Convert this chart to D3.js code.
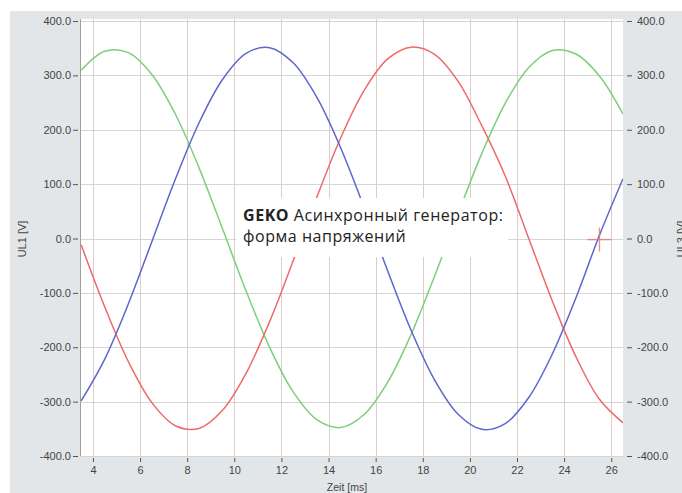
<!DOCTYPE html>
<html>
<head>
<meta charset="utf-8">
<script src="https://cdn.jsdelivr.net/npm/d3@7"></script>
<style>
body{margin:0;background:#fff}
svg{display:block}
</style>
</head>
<body>
<svg width="682" height="493"></svg>
<script>
// time axis samples [ms]
const time = [3.5,4.5,5.5,6.5,7.5,8.5,9.5,10.5,11.5,12.5,13.5,14.5,15.5,16.5,17.5,18.5,19.5,20.5,21.5,22.5,23.5,24.5,25.5,26.5];
// phase voltages [V]
const phaseRed = [-11.7,-125.8,-226.2,-301.9,-344.4,-349.3,-315.9,-247.9,-152.7,-40.9,75.5,183.5,271.5,329.8,351.9,338.8,289.1,207.9,114.8,0.0,-114.9,-217.2,-295.7,-339.0];
const phaseBlue = [-298.8,-221.8,-120.4,-5.9,109.3,212.5,292.4,340.4,351.0,323.2,260.0,168.4,58.3,-58.3,-168.4,-260.0,-323.2,-351.0,-340.4,-292.4,-212.5,-109.3,5.9,110.0];
const phaseGreen = [309.4,344.4,341.8,301.7,228.5,130.4,17.9,-96.5,-200.3,-282.2,-333.2,-347.7,-324.2,-265.1,-177.0,-69.5,45.6,155.7,248.7,314.6,345.9,339.4,299.0,229.0];

const xTicks = [4,6,8,10,12,14,16,18,20,22,24,26];
const yTicks = [-400,-300,-200,-100,0,100,200,300,400];
const cursorPoint = [25.5, -2];

const svg = d3.select("svg");
const plotL = 80, plotR = 623, plotT = 21, plotB = 456;

const x = d3.scaleLinear().domain([3.45, 26.5]).range([plotL, plotR]);
const y = d3.scaleLinear().domain([-400, 400]).range([plotB, plotT]);

// backgrounds
svg.append("rect").attr("x",10).attr("y",11).attr("width",672).attr("height",482).attr("fill","#e3e6e8");
svg.append("rect").attr("x",plotL).attr("y",19).attr("width",plotR-plotL).attr("height",plotB-19).attr("fill","#fff");

// grid
svg.append("g").selectAll("line").data(yTicks).enter().append("line")
  .attr("x1",plotL).attr("x2",plotR)
  .attr("y1",d=>Math.round(y(d))+0.5).attr("y2",d=>Math.round(y(d))+0.5)
  .attr("stroke","#d6d6d6").attr("stroke-width",1);
svg.append("g").selectAll("line").data(xTicks).enter().append("line")
  .attr("x1",d=>Math.round(x(d))+0.5).attr("x2",d=>Math.round(x(d))+0.5)
  .attr("y1",19).attr("y2",plotB)
  .attr("stroke","#dccdcd").attr("stroke-width",1);

// left axis line
svg.append("line").attr("x1",plotL+0.5).attr("x2",plotL+0.5).attr("y1",19).attr("y2",plotB)
  .attr("stroke","#a0a0a0");

const fmt = v => v.toFixed(1);

const yLeft = svg.append("g").attr("transform","translate(78,0)")
  .call(d3.axisLeft(y).tickValues(yTicks).tickFormat(fmt).tickSize(5).tickPadding(2));
const yRight = svg.append("g").attr("transform","translate(627,0)")
  .call(d3.axisRight(y).tickValues(yTicks).tickFormat(fmt).tickSize(5).tickPadding(5));
const xAxis = svg.append("g").attr("transform","translate(0,458)")
  .call(d3.axisBottom(x).tickValues(xTicks).tickFormat(d3.format("d")).tickSize(4).tickPadding(4));

[yLeft, yRight, xAxis].forEach(g => {
  g.select(".domain").remove();
  g.selectAll(".tick line").attr("stroke","#555");
  g.selectAll(".tick text").attr("fill","#444")
    .style("font-family","'Liberation Sans', Arial, sans-serif").style("font-size","11px");
});

// axis titles
svg.append("text").attr("x",347).attr("y",491).attr("text-anchor","middle")
  .style("font-family","'Liberation Sans', Arial, sans-serif").style("font-size","10.5px").attr("fill","#444")
  .text("Zeit [ms]");
svg.append("text").attr("transform","translate(26,239) rotate(-90)").attr("text-anchor","middle")
  .style("font-family","'Liberation Sans', Arial, sans-serif").style("font-size","11px").attr("fill","#444")
  .text("UL1 [V]");
svg.append("text").attr("transform","translate(685,239) rotate(-90)").attr("text-anchor","middle")
  .style("font-family","'Liberation Sans', Arial, sans-serif").style("font-size","11px").attr("fill","#444")
  .text("UL3 [V]");

// curves
svg.append("clipPath").attr("id","plot").append("rect")
  .attr("x",plotL).attr("y",19).attr("width",plotR-plotL).attr("height",plotB-19);

const line = d3.line().x((d,i)=>x(time[i])).y(d=>y(d)).curve(d3.curveCatmullRom);
const series = [
  {values: phaseGreen, color: "#7ccf7c"},
  {values: phaseRed, color: "#ee6a6a"},
  {values: phaseBlue, color: "#5c66cc"}
];
svg.append("g").attr("clip-path","url(#plot)").selectAll("path").data(series).enter().append("path")
  .attr("d",d=>line(d.values)).attr("fill","none")
  .attr("stroke",d=>d.color).attr("stroke-width",1.5);

// cursor cross
const cx = x(cursorPoint[0]), cy = y(cursorPoint[1]);
const cross = svg.append("g").attr("stroke","#e07777").attr("stroke-width",1.4).attr("opacity",0.8);
cross.append("line").attr("x1",cx-12).attr("x2",cx+12).attr("y1",cy).attr("y2",cy);
cross.append("line").attr("x1",cx).attr("x2",cx).attr("y1",cy-12).attr("y2",cy+12);

// title box
svg.append("rect").attr("x",236).attr("y",198).attr("width",272).attr("height",59).attr("fill","#fff");
const t1 = svg.append("text").attr("x",243).attr("y",221)
  .style("font-family","'Open Sans', 'Noto Sans', sans-serif").style("font-size","16px")
  .style("letter-spacing","0.55px").attr("fill","#222");
t1.append("tspan").attr("font-weight","bold").text("GEKO");
t1.append("tspan").text(" Асинхронный генератор:");
svg.append("text").attr("x",243).attr("y",242)
  .style("font-family","'Open Sans', 'Noto Sans', sans-serif").style("font-size","16px")
  .style("letter-spacing","0.55px").attr("fill","#222")
  .text("форма напряжений");
</script>
</body>
</html>
